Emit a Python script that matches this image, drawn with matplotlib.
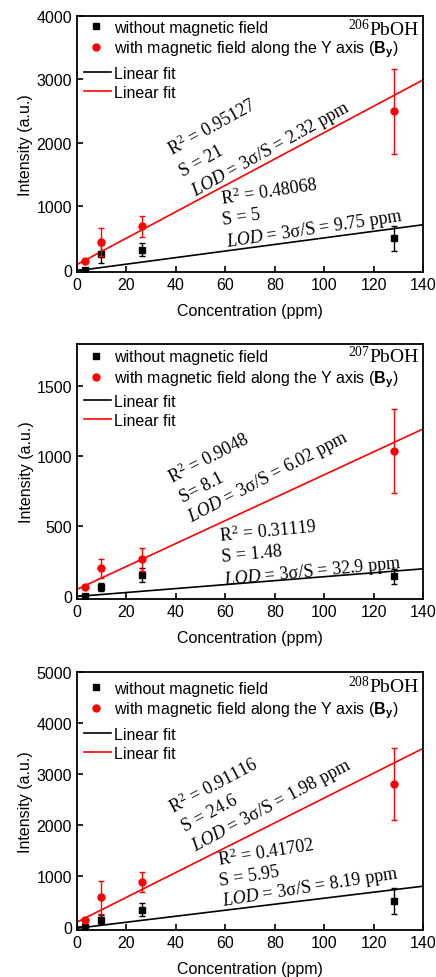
import matplotlib
matplotlib.use('Agg')
import matplotlib.pyplot as plt
from matplotlib.lines import Line2D

plt.rcParams['font.family'] = ['Liberation Sans', 'DejaVu Sans']
plt.rcParams['mathtext.fontset'] = 'custom'
plt.rcParams['mathtext.rm'] = 'Liberation Serif'
plt.rcParams['mathtext.it'] = 'Liberation Serif:italic'
plt.rcParams['mathtext.bf'] = 'Liberation Sans:bold'

# ---------------- data ----------------
conc = [3.3, 10, 26.5, 128]
isotopes = ['206', '207', '208']

no_field = [[0, 247, 315, 493], [0, 67, 150, 143], [0, 151, 348, 512]]
no_field_err = [[20, 139, 105, 197], [8, 27, 50, 53], [20, 82, 131, 250]]
with_field = [[142, 441, 682, 2493], [71, 200, 264, 1038], [144, 584, 879, 2802]]
with_field_err = [[30, 220, 165, 670], [12, 70, 85, 300], [35, 315, 195, 705]]

fit_no_slope = [5.18, 1.41, 5.9]
fit_no_icpt = [-16, 0, -20]
fit_with_slope = [20.8, 8.18, 24.37]
fit_with_icpt = [80, 50, 98]

red_texts = [
    [r'R$^2$ = 0.95127', r'S = 21', r'$LOD$ = 3σ/S = 2.32 ppm'],
    [r'R$^2$ = 0.9048', r'S= 8.1', r'$LOD$ = 3σ/S = 6.02 ppm'],
    [r'R$^2$ = 0.91116', r'S = 24.6', r'$LOD$ = 3σ/S = 1.98 ppm'],
]
black_texts = [
    [r'R$^2$ = 0.48068', r'S = 5', r'$LOD$ = 3σ/S = 9.75 ppm'],
    [r'R$^2$ = 0.31119', r'S = 1.48', r'$LOD$ = 3σ/S = 32.9 ppm'],
    [r'R$^2$ = 0.41702', r'S = 5.95', r'$LOD$ = 3σ/S = 8.19 ppm'],
]

y_limits = [(-40, 4000), (-18, 1800), (-48, 5000)]
y_ticks = [[0, 1000, 2000, 3000, 4000], [0, 500, 1000, 1500], [0, 1000, 2000, 3000, 4000, 5000]]
x_ticks = [0, 20, 40, 60, 80, 100, 120, 140]

# ---------------- layout (pixels) ----------------
W, H = 436, 978
fig = plt.figure(figsize=(W / 100, H / 100), dpi=100)
left_px, right_px = 76.7, 423.3
panel_tb = [(16.7, 273.3), (345.0, 600.0), (673.3, 930.7)]
legend_off = [(12.3, 58.3), (13.3, 57.7), (16.7, 62.7)]
label_off = [19.3, 18.3, 20.0]

# annotation anchor positions (data coords) and rotations
red_pos = [
    [(38.4, 1795), (43.1, 1480), (47.8, 1165)],
    [(38.4, 805), (43.1, 674), (46.4, 531)],
    [(39.0, 2231), (43.7, 1883), (47.8, 1509)],
]
black_pos = [
    [(58.6, 1034), (59.2, 719), (60.6, 378)],
    [(57.9, 393), (58.6, 250), (59.6, 90)],
    [(57.2, 1214), (57.9, 820), (59.2, 427)],
]
red_rot = [29, 27.5, 28]
black_rot = [8.5, 5.5, 9]

fs = 11.5
ann_fs = 13

for i in range(3):
    top, bot = panel_tb[i]
    ax = fig.add_axes([left_px / W, 1 - bot / H, (right_px - left_px) / W, (bot - top) / H])
    hpx = bot - top

    xs = [0, 140]
    ax.plot(xs, [fit_no_icpt[i] + fit_no_slope[i] * x for x in xs], color='black', lw=1.2, zorder=2)
    ax.plot(xs, [fit_with_icpt[i] + fit_with_slope[i] * x for x in xs], color='red', lw=1.2, zorder=2)

    ax.errorbar(conc, no_field[i], yerr=no_field_err[i], fmt='s', color='black', ms=4.5,
                capsize=2.5, elinewidth=1, capthick=1, zorder=3)
    ax.errorbar(conc, with_field[i], yerr=with_field_err[i], fmt='o', color='red', ms=5,
                capsize=2.5, elinewidth=1, capthick=1, zorder=4)

    ax.set_xlim(0, 140)
    ax.set_ylim(*y_limits[i])
    ax.set_xticks(x_ticks)
    ax.set_yticks(y_ticks[i])
    ax.tick_params(direction='in', length=4, width=1.2, labelsize=fs, top=False, right=False)
    for s in ax.spines.values():
        s.set_linewidth(1.3)
    ax.set_xlabel('Concentration (ppm)', fontsize=fs, labelpad=8)
    ax.set_ylabel('Intensity (a.u.)', fontsize=fs, labelpad=2)

    h1 = [Line2D([], [], marker='s', color='black', ls='none', ms=4.5),
          Line2D([], [], marker='o', color='red', ls='none', ms=5)]
    leg1 = ax.legend(h1, ['without magnetic field',
                          r'with magnetic field along the Y axis ($\mathbf{B}_\mathbf{y}$)'],
                     loc='upper left', bbox_to_anchor=(0.034, 1 - (legend_off[i][0] - 8) / hpx),
                     frameon=False, fontsize=fs, handlelength=1.0, handletextpad=0.6,
                     borderaxespad=0, borderpad=0, labelspacing=0.25)
    ax.add_artist(leg1)
    h2 = [Line2D([], [], color='black', lw=1.2), Line2D([], [], color='red', lw=1.2)]
    ax.legend(h2, ['Linear fit', 'Linear fit'], loc='upper left',
              bbox_to_anchor=(0.021, 1 - (legend_off[i][1] - 8) / hpx),
              frameon=False, fontsize=fs, handlelength=1.7, handletextpad=0.2,
              borderaxespad=0, borderpad=0, labelspacing=0.25)

    ax.text(0.99, 1 - label_off[i] / hpx, r'$^{' + isotopes[i] + r'}$PbOH',
            transform=ax.transAxes, ha='right', va='baseline', fontsize=14,
            family='Liberation Serif')

    for t, (px, py) in zip(red_texts[i], red_pos[i]):
        ax.text(px, py, t, rotation=red_rot[i], rotation_mode='anchor', ha='left', va='baseline',
                fontsize=ann_fs, family='Liberation Serif')
    for t, (px, py) in zip(black_texts[i], black_pos[i]):
        ax.text(px, py, t, rotation=black_rot[i], rotation_mode='anchor', ha='left', va='baseline',
                fontsize=ann_fs, family='Liberation Serif')

fig.savefig('out.png', dpi=100)
